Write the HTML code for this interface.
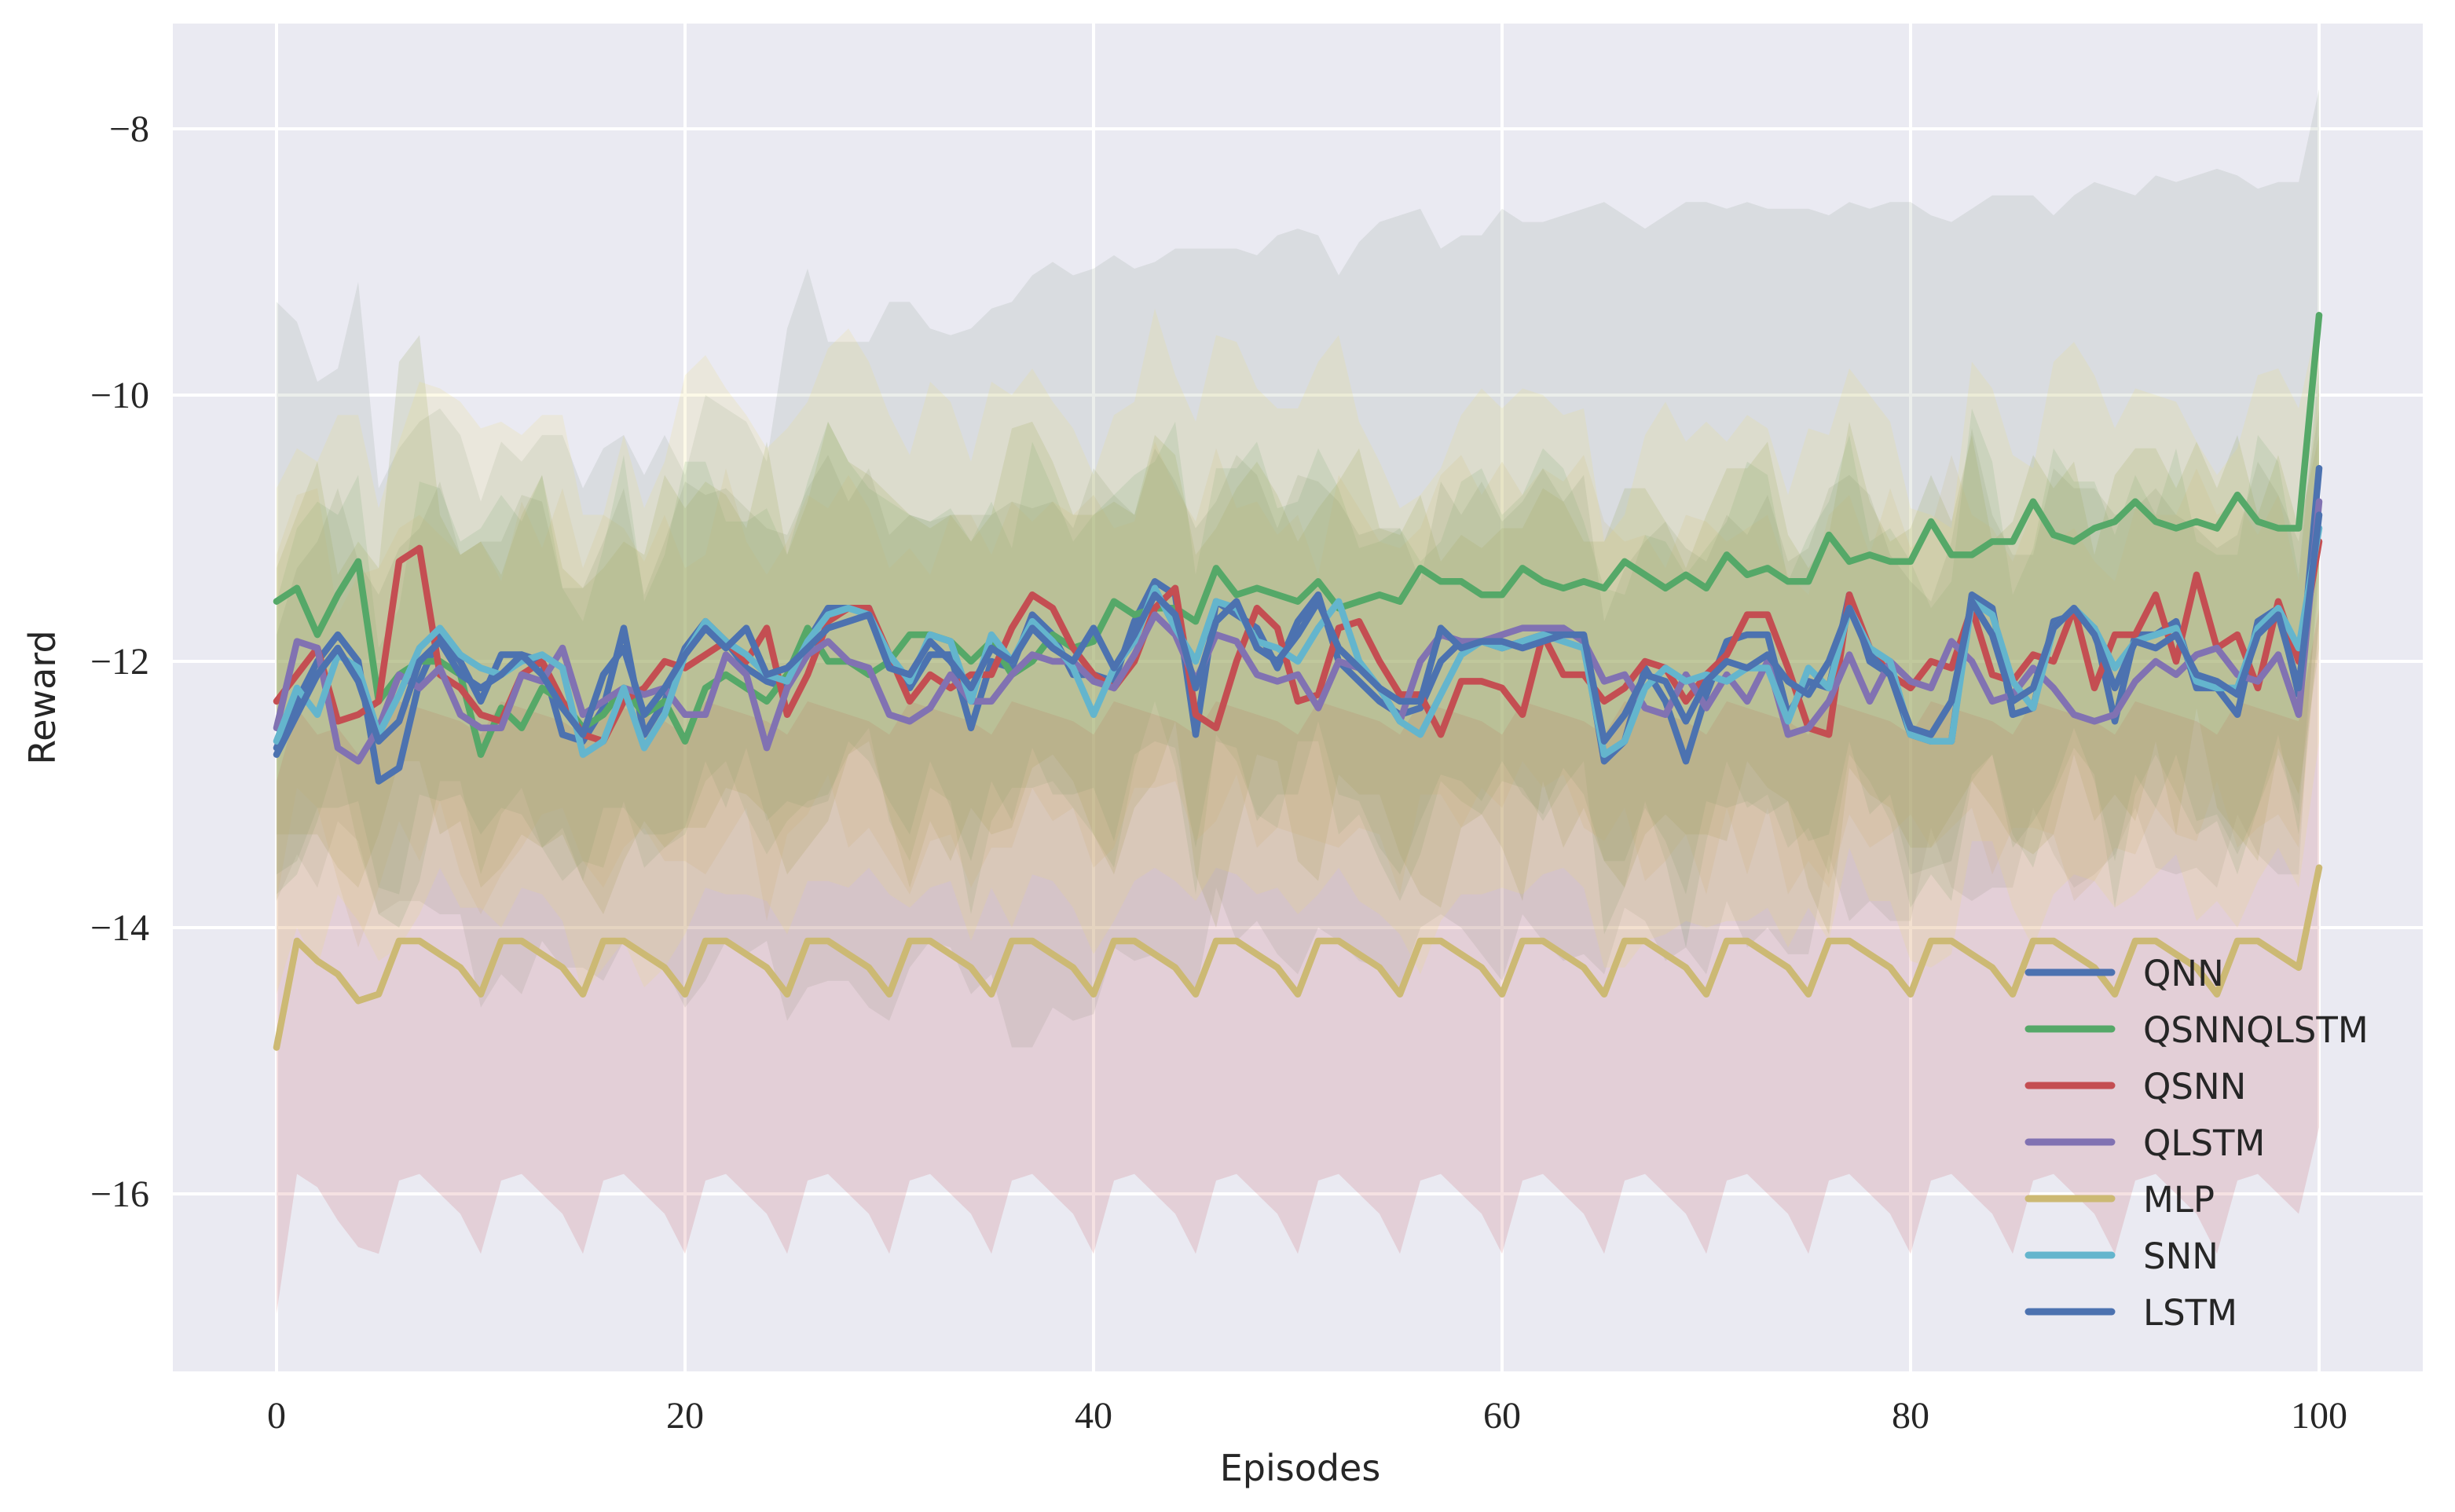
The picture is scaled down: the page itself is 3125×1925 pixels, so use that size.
<!DOCTYPE html>
<html><head><meta charset="utf-8"><style>
html,body{margin:0;padding:0;background:#fff;}
svg{display:block;}
</style></head><body>
<svg id="chart" width="3125" height="1925" xmlns="http://www.w3.org/2000/svg">
<rect x="220" y="30" width="2864" height="1716" fill="#eaeaf2"/>
<g id="grid"></g>
<g id="bands"></g>
<g id="lines"></g>
<g id="ticks"></g>
<text x="1655" y="1885" font-family="'DejaVu Sans','Liberation Sans',sans-serif" font-size="46" text-anchor="middle" fill="#262626">Episodes</text>
<text transform="translate(70,888) rotate(-90)" font-family="'DejaVu Sans','Liberation Sans',sans-serif" font-size="46" text-anchor="middle" fill="#262626">Reward</text>
<g id="legend"></g>
</svg>
<script>
const seriesNames = ["QNN","QSNNQLSTM","QSNN","QLSTM","MLP","SNN","LSTM"];
const lineColors = ["#4c72b0","#55a868","#c44e52","#8172b2","#ccb974","#64b5cd","#4c72b0"];
const fillColors = ["#55a868","#8a9a8a","#8a9a40","#ccb974","#c44e52","#eedd70","#8a9a6a"];
const xTicks = [0,20,40,60,80,100];
const yTicks = [-8,-10,-12,-14,-16];
const yTickLabels = ["\u22128","\u221210","\u221212","\u221214","\u221216"];

const qnnMean = [-12.65,-12.3,-12.0,-11.8,-12.0,-12.9,-12.8,-12.15,-11.8,-12.0,-12.3,-11.95,-11.95,-12.0,-12.55,-12.6,-12.35,-11.75,-12.55,-12.3,-11.9,-11.7,-11.85,-12.05,-12.15,-12.2,-11.85,-11.6,-11.6,-11.6,-12.0,-12.2,-11.95,-11.95,-12.5,-12.0,-12.05,-11.65,-11.8,-12.1,-12.1,-12.15,-11.7,-11.4,-11.5,-12.55,-11.55,-11.65,-11.75,-12.05,-11.7,-11.5,-12.0,-12.15,-12.3,-12.4,-12.35,-12.0,-11.85,-11.85,-11.9,-11.85,-11.8,-11.75,-11.85,-12.75,-12.6,-12.05,-12.3,-12.75,-12.25,-11.85,-11.8,-11.8,-12.4,-12.15,-12.2,-11.5,-12.0,-12.1,-12.55,-12.6,-12.6,-11.5,-11.6,-12.4,-12.35,-11.7,-11.65,-11.75,-12.45,-11.8,-11.8,-11.7,-12.2,-12.2,-12.4,-11.7,-11.6,-12.25,-10.55];
const qsnnqlstmMean = [-11.55,-11.45,-11.8,-11.5,-11.25,-12.3,-12.1,-12.0,-12.0,-12.1,-12.7,-12.35,-12.5,-12.2,-12.3,-12.5,-12.4,-12.2,-12.4,-12.3,-12.6,-12.2,-12.1,-12.2,-12.3,-12.1,-11.75,-12.0,-12.0,-12.1,-12.0,-11.8,-11.8,-11.85,-12.0,-11.85,-12.1,-12.0,-11.8,-11.9,-11.85,-11.55,-11.65,-11.6,-11.6,-11.7,-11.3,-11.5,-11.45,-11.5,-11.55,-11.4,-11.6,-11.55,-11.5,-11.55,-11.3,-11.4,-11.4,-11.5,-11.5,-11.3,-11.4,-11.45,-11.4,-11.45,-11.25,-11.35,-11.45,-11.35,-11.45,-11.2,-11.35,-11.3,-11.4,-11.4,-11.05,-11.25,-11.2,-11.25,-11.25,-10.95,-11.2,-11.2,-11.1,-11.1,-10.8,-11.05,-11.1,-11.0,-10.95,-10.8,-10.95,-11.0,-10.95,-11.0,-10.75,-10.95,-11.0,-11.0,-9.4];
const qsnnMean = [-12.3,-12.1,-11.9,-12.45,-12.4,-12.3,-11.25,-11.15,-12.1,-12.2,-12.4,-12.45,-12.1,-12.0,-12.3,-12.55,-12.6,-12.3,-12.2,-12.0,-12.05,-11.95,-11.85,-12.0,-11.75,-12.4,-12.1,-11.7,-11.6,-11.6,-11.95,-12.3,-12.1,-12.2,-12.1,-12.1,-11.75,-11.5,-11.6,-11.9,-12.1,-12.2,-12.0,-11.6,-11.45,-12.4,-12.5,-12.0,-11.6,-11.75,-12.3,-12.25,-11.75,-11.7,-12.0,-12.25,-12.25,-12.55,-12.15,-12.15,-12.2,-12.4,-11.8,-12.1,-12.1,-12.3,-12.2,-12.0,-12.05,-12.3,-12.1,-11.95,-11.65,-11.65,-12.05,-12.5,-12.55,-11.5,-11.9,-12.1,-12.2,-12.0,-12.05,-11.6,-12.1,-12.15,-11.95,-12.0,-11.6,-12.2,-11.8,-11.8,-11.5,-12.0,-11.35,-11.9,-11.8,-12.2,-11.55,-12.0,-11.1];
const qlstmMean = [-12.5,-11.85,-11.9,-12.65,-12.75,-12.5,-12.1,-12.2,-12.05,-12.4,-12.5,-12.5,-12.1,-12.15,-11.9,-12.4,-12.3,-12.2,-12.25,-12.2,-12.4,-12.4,-11.95,-12.1,-12.65,-12.2,-11.95,-11.85,-12.0,-12.05,-12.4,-12.45,-12.35,-12.1,-12.3,-12.3,-12.1,-11.95,-12.0,-12.0,-12.15,-12.2,-11.95,-11.65,-11.8,-12.15,-11.8,-11.85,-12.1,-12.15,-12.1,-12.35,-12.0,-12.05,-12.2,-12.45,-12.0,-11.8,-11.85,-11.85,-11.8,-11.75,-11.75,-11.75,-11.85,-12.15,-12.1,-12.35,-12.4,-12.1,-12.35,-12.1,-12.3,-12.0,-12.55,-12.5,-12.3,-11.95,-12.3,-12.0,-12.15,-12.2,-11.85,-12.0,-12.3,-12.25,-12.05,-12.2,-12.4,-12.45,-12.4,-12.15,-12.0,-12.1,-11.95,-11.9,-12.1,-12.15,-11.95,-12.4,-10.8];
const mlpMean = [-14.9,-14.1,-14.25,-14.35,-14.55,-14.5,-14.1,-14.1,-14.2,-14.3,-14.5,-14.1,-14.1,-14.2,-14.3,-14.5,-14.1,-14.1,-14.2,-14.3,-14.5,-14.1,-14.1,-14.2,-14.3,-14.5,-14.1,-14.1,-14.2,-14.3,-14.5,-14.1,-14.1,-14.2,-14.3,-14.5,-14.1,-14.1,-14.2,-14.3,-14.5,-14.1,-14.1,-14.2,-14.3,-14.5,-14.1,-14.1,-14.2,-14.3,-14.5,-14.1,-14.1,-14.2,-14.3,-14.5,-14.1,-14.1,-14.2,-14.3,-14.5,-14.1,-14.1,-14.2,-14.3,-14.5,-14.1,-14.1,-14.2,-14.3,-14.5,-14.1,-14.1,-14.2,-14.3,-14.5,-14.1,-14.1,-14.2,-14.3,-14.5,-14.1,-14.1,-14.2,-14.3,-14.5,-14.1,-14.1,-14.2,-14.3,-14.5,-14.1,-14.1,-14.2,-14.3,-14.5,-14.1,-14.1,-14.2,-14.3,-13.55];
const snnMean = [-12.6,-12.2,-12.4,-11.95,-12.05,-12.55,-12.25,-11.9,-11.75,-11.95,-12.05,-12.1,-12.0,-11.95,-12.05,-12.7,-12.6,-12.2,-12.65,-12.4,-11.95,-11.7,-11.85,-11.95,-12.1,-12.15,-11.85,-11.65,-11.6,-11.65,-11.95,-12.15,-11.8,-11.85,-12.3,-11.8,-12.0,-11.7,-11.85,-12.05,-12.4,-12.05,-11.85,-11.45,-11.75,-12.0,-11.55,-11.6,-11.85,-11.9,-12.0,-11.75,-11.55,-12.0,-12.2,-12.45,-12.55,-12.25,-11.95,-11.85,-11.9,-11.85,-11.8,-11.85,-11.9,-12.7,-12.6,-12.2,-12.05,-12.15,-12.1,-12.15,-12.05,-12.05,-12.45,-12.05,-12.2,-11.6,-11.9,-12.0,-12.55,-12.6,-12.6,-11.55,-11.65,-12.15,-12.35,-11.75,-11.6,-11.75,-12.05,-11.85,-11.8,-11.75,-12.15,-12.2,-12.2,-11.75,-11.6,-11.9,-11.0];
const lstmMean = [-12.7,-12.4,-12.1,-11.9,-12.15,-12.6,-12.45,-12.0,-11.85,-12.1,-12.2,-12.1,-11.95,-12.1,-12.35,-12.55,-12.1,-11.9,-12.4,-12.2,-11.95,-11.75,-11.9,-11.75,-12.1,-12.05,-11.9,-11.75,-11.7,-11.65,-12.05,-12.1,-11.85,-12.0,-12.2,-11.9,-12.0,-11.75,-11.9,-12.0,-11.75,-12.05,-11.8,-11.5,-11.65,-12.2,-11.7,-11.55,-11.9,-12.0,-11.8,-11.55,-11.9,-12.05,-12.2,-12.3,-12.3,-11.75,-11.9,-11.85,-11.85,-11.9,-11.85,-11.8,-11.8,-12.6,-12.4,-12.1,-12.15,-12.45,-12.15,-12.0,-12.05,-11.95,-12.15,-12.25,-12.0,-11.6,-11.95,-12.1,-12.5,-12.55,-12.3,-11.55,-11.8,-12.3,-12.2,-11.75,-11.6,-11.8,-12.2,-11.85,-11.9,-11.8,-12.1,-12.15,-12.25,-11.8,-11.65,-12.2,-10.9];

const qnnStd = [1.1,1.3,1.2,0.9,1.4,1.0,1.2,1.5,1.1,0.9,1.3,1.2,1.0,1.4,1.1,0.9,1.2,1.3,1.0,1.1,1.4,1.2,0.9,1.1,1.3,1.0,1.2,1.4,1.1,0.9,1.2,1.3,1.0,1.1,1.4,1.2,0.9,1.3,1.1,1.0,1.2,1.4,1.1,0.9,1.3,1.2,1.0,1.1,1.4,1.2,0.9,1.1,1.3,1.0,1.2,1.4,1.1,0.9,1.2,1.3,1.0,1.1,1.4,1.2,0.9,1.3,1.1,1.0,1.2,1.4,1.1,0.9,1.3,1.2,1.0,1.1,1.4,1.2,0.9,1.1,1.3,1.0,1.2,1.4,1.1,0.9,1.2,1.3,1.0,1.1,1.4,1.2,0.9,1.3,1.1,1.0,1.2,1.4,1.1,0.9,0.8];
const qsnnqlstmStd = [2.25,2.0,1.9,1.7,2.1,1.6,1.7,1.8,1.9,1.8,1.9,2.0,2.0,1.9,2.0,1.8,2.0,1.9,1.8,2.0,2.0,2.2,2.0,2.0,1.8,2.6,2.7,2.4,2.4,2.5,2.7,2.5,2.3,2.3,2.5,2.5,2.8,2.9,2.8,2.8,2.8,2.6,2.6,2.6,2.7,2.8,2.4,2.6,2.5,2.7,2.8,2.6,2.5,2.7,2.8,2.9,2.7,2.5,2.6,2.7,2.9,2.6,2.7,2.8,2.8,2.9,2.6,2.6,2.8,2.8,2.9,2.6,2.8,2.7,2.8,2.8,2.4,2.7,2.6,2.7,2.7,2.3,2.5,2.6,2.6,2.6,2.3,2.4,2.6,2.6,2.5,2.3,2.6,2.6,2.6,2.7,2.4,2.5,2.6,2.6,1.7];
const qsnnStd = [1.0,1.2,1.4,1.1,1.3,1.0,1.5,1.6,1.2,1.0,1.3,1.1,1.2,1.4,1.0,1.1,1.3,1.2,1.0,1.4,1.2,1.3,1.1,1.0,1.4,1.2,1.3,1.5,1.1,1.0,1.2,1.4,1.1,1.3,1.0,1.2,1.5,1.3,1.1,1.0,1.2,1.4,1.1,1.3,1.0,1.2,1.5,1.3,1.1,1.0,1.2,1.4,1.1,1.3,1.0,1.2,1.5,1.3,1.1,1.0,1.2,1.4,1.1,1.3,1.0,1.2,1.5,1.3,1.1,1.0,1.2,1.4,1.1,1.3,1.0,1.2,1.5,1.3,1.1,1.0,1.2,1.4,1.1,1.3,1.0,1.2,1.5,1.3,1.1,1.0,1.2,1.4,1.1,1.3,1.0,1.2,1.5,1.3,1.1,1.0,0.8];
const qlstmStd = [1.3,1.1,1.2,1.0,1.4,1.2,1.1,1.3,1.0,1.2,1.4,1.1,1.3,1.0,1.2,1.1,1.4,1.2,1.0,1.3,1.1,1.2,1.4,1.0,1.3,1.1,1.2,1.0,1.4,1.2,1.1,1.3,1.0,1.2,1.4,1.1,1.3,1.0,1.2,1.1,1.4,1.2,1.0,1.3,1.1,1.2,1.4,1.0,1.3,1.1,1.2,1.0,1.4,1.2,1.1,1.3,1.0,1.2,1.4,1.1,1.3,1.0,1.2,1.1,1.4,1.2,1.0,1.3,1.1,1.2,1.4,1.0,1.3,1.1,1.2,1.0,1.4,1.2,1.1,1.3,1.0,1.2,1.4,1.1,1.3,1.0,1.2,1.1,1.4,1.2,1.0,1.3,1.1,1.2,1.4,1.0,1.3,1.1,1.2,1.0,0.9];
const mlpStd = [2.0,1.75,1.7,1.85,1.85,1.95,1.8,1.75,1.8,1.85,1.95,1.8,1.75,1.8,1.85,1.95,1.8,1.75,1.8,1.85,1.95,1.8,1.75,1.8,1.85,1.95,1.8,1.75,1.8,1.85,1.95,1.8,1.75,1.8,1.85,1.95,1.8,1.75,1.8,1.85,1.95,1.8,1.75,1.8,1.85,1.95,1.8,1.75,1.8,1.85,1.95,1.8,1.75,1.8,1.85,1.95,1.8,1.75,1.8,1.85,1.95,1.8,1.75,1.8,1.85,1.95,1.8,1.75,1.8,1.85,1.95,1.8,1.75,1.8,1.85,1.95,1.8,1.75,1.8,1.85,1.95,1.8,1.75,1.8,1.85,1.95,1.8,1.75,1.8,1.85,1.95,1.8,1.75,1.8,1.85,1.95,1.8,1.75,1.8,1.85,1.95];
const snnStd = [1.9,1.8,1.9,1.8,1.9,1.7,1.9,2.0,1.8,1.9,1.8,1.9,1.7,1.8,1.9,1.8,1.7,1.9,1.8,1.9,2.1,2.0,1.9,1.8,1.7,1.9,1.8,2.0,2.1,1.9,1.8,1.7,1.9,1.8,1.8,1.9,2.0,1.9,1.8,1.8,1.8,1.9,1.8,2.1,1.9,1.8,2.0,2.0,1.9,1.8,1.9,2.0,2.0,1.8,1.7,1.6,1.8,1.7,1.8,1.9,1.8,1.9,1.8,1.7,1.8,1.6,1.7,1.9,2.0,1.8,1.9,1.8,1.9,1.8,1.7,1.8,1.9,1.8,1.9,1.8,1.7,1.7,1.6,1.8,1.7,1.7,1.8,2.0,2.0,1.9,1.8,1.9,1.8,1.7,1.8,1.6,1.8,1.9,1.8,1.8,1.6];
const lstmStd = [0.9,1.1,1.0,1.2,0.9,1.1,1.3,1.0,1.2,0.9,1.1,1.0,1.2,1.3,0.9,1.1,1.0,1.2,0.9,1.1,1.3,1.0,1.2,0.9,1.1,1.0,1.2,1.3,0.9,1.1,1.0,1.2,0.9,1.1,1.3,1.0,1.2,0.9,1.1,1.0,1.2,1.3,0.9,1.1,1.0,1.2,0.9,1.1,1.3,1.0,1.2,0.9,1.1,1.0,1.2,1.3,0.9,1.1,1.0,1.2,0.9,1.1,1.3,1.0,1.2,0.9,1.1,1.0,1.2,1.3,0.9,1.1,1.0,1.2,0.9,1.1,1.3,1.0,1.2,0.9,1.1,1.0,1.2,1.3,0.9,1.1,1.0,1.2,0.9,1.1,1.3,1.0,1.2,0.9,1.1,1.0,1.2,1.3,0.9,1.1,0.8];

const means = [qnnMean,qsnnqlstmMean,qsnnMean,qlstmMean,mlpMean,snnMean,lstmMean];
const stds = [qnnStd,qsnnqlstmStd,qsnnStd,qlstmStd,mlpStd,snnStd,lstmStd];

const NS = "http://www.w3.org/2000/svg";
const X0 = 352, XS = 26.0, Y0 = 164, YS = 169.5;
function xScale(i){ return X0 + i*XS; }
function yScale(v){ return Y0 + (-8 - v)*YS; }
function mk(tag, attrs, parent){ const e=document.createElementNS(NS,tag); for(const k in attrs) e.setAttribute(k,attrs[k]); parent.appendChild(e); return e; }

const grid = document.getElementById('grid');
xTicks.forEach(t=>{
  const l = mk('line',{x1:xScale(t),x2:xScale(t),y1:30,y2:1746,stroke:'#fff','stroke-width':4},grid);
  
  
});
yTicks.forEach(t=>{
  const l = mk('line',{x1:220,x2:3084,y1:yScale(t),y2:yScale(t),stroke:'#fff','stroke-width':4},grid);
  
  
});

const bands = document.getElementById('bands');
means.forEach((m,s)=>{
  const sd = stds[s];
  let up=[], lo=[];
  for(let i=0;i<m.length;i++){ const d = sd[i]!==undefined?sd[i]:1; up.push(xScale(i)+','+yScale(m[i]+d)); lo.push(xScale(i)+','+yScale(m[i]-d)); }
  const p = mk('polygon',{points: up.concat(lo.reverse()).join(' '), fill: fillColors[s], 'fill-opacity': 0.17},bands);
  
  
});

const lines = document.getElementById('lines');
means.forEach((m,s)=>{
  const pts = m.map((v,i)=>xScale(i)+','+yScale(v)).join(' ');
  const pl = mk('polyline',{points:pts,fill:'none',stroke:lineColors[s],'stroke-width':8.5,'stroke-linejoin':'round','stroke-linecap':'round'},lines);
  
  
});

const ticks = document.getElementById('ticks');
xTicks.forEach(t=>{
  const tx = mk('text',{x:xScale(t),y:1818,'font-family':"'Liberation Serif',serif",'font-size':48,'text-anchor':'middle',fill:'#262626'},ticks);
  tx.textContent = String(t);
  
  
});
yTicks.forEach((t,i)=>{
  const tx = mk('text',{x:190,y:yScale(t)+16,'font-family':"'Liberation Serif',serif",'font-size':48,'text-anchor':'end',fill:'#262626'},ticks);
  tx.textContent = yTickLabels[i];
  
  
});

const legend = document.getElementById('legend');
seriesNames.forEach((n,i)=>{
  const y = 1238 + i*72;
  const g = mk('g',{},legend);
  
  
  mk('line',{x1:2582,x2:2688,y1:y,y2:y,stroke:lineColors[i],'stroke-width':9,'stroke-linecap':'round'},g);
  const tx = mk('text',{x:2728,y:y+17,'font-family':"'DejaVu Sans','Liberation Sans',sans-serif",'font-size':45,fill:'#262626'},g);
  tx.textContent = n;
});
</script>
</body></html>
